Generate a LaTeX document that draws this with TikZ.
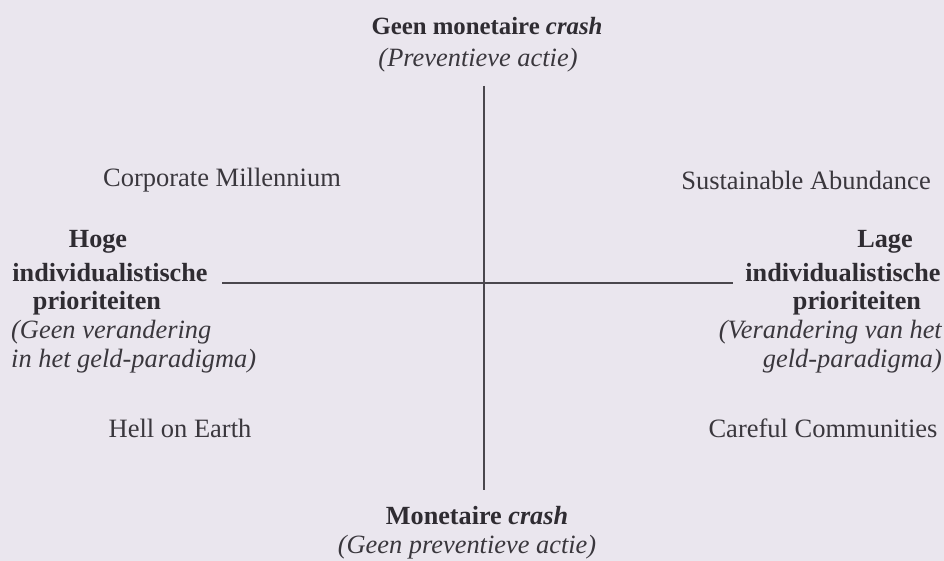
\documentclass[tikz,border=0pt]{standalone}
\usepackage{fontspec}
\setmainfont{Liberation Serif}
\definecolor{bg}{HTML}{EAE6EE}
\definecolor{ink}{HTML}{3A373D}
\definecolor{inkb}{HTML}{2F2C32}
\definecolor{linec}{HTML}{4A474D}
\begin{document}
\begin{tikzpicture}[x=1pt,y=-1pt,
  txt/.style={text=ink,font=\fontsize{26.5}{28}\selectfont,inner sep=0pt},
  bld/.style={txt,text=inkb,font=\fontsize{26.2}{28}\selectfont\bfseries},
  itl/.style={txt,font=\fontsize{26.4}{28}\selectfont\itshape},
  axis/.style={draw=linec,line width=1.6pt}]
\fill[bg] (0,0) rectangle (944,561);
\useasboundingbox (0,0) rectangle (944,561);
\node[bld,font=\fontsize{24.8}{28}\selectfont\bfseries] (top1) at (487,26) {Geen monetaire \textit{crash}};
\node[itl] (top2) at (478,60) {(Preventieve actie)};
\node[txt] (cm) at (222,180) {Corporate Millennium};
\node[txt] (sa) at (806,180) {Sustainable Abundance};
\node[bld] (l1) at (98,242) {Hoge};
\node[bld] (l2) at (110,273) {individualistische};
\node[bld] (l3) at (97,303) {prioriteiten};
\node[itl,anchor=west] (l4) at (11,332) {(Geen verandering};
\node[itl,anchor=west] (l5) at (11,361) {in het geld-paradigma)};
\node[bld] (r1) at (885,242) {Lage};
\node[bld] (r2) at (843,273) {individualistische};
\node[bld] (r3) at (857,303) {prioriteiten};
\node[itl,anchor=east] (r4) at (942,332) {(Verandering van het};
\node[itl,anchor=east] (r5) at (942,361) {geld-paradigma)};
\node[txt] (he) at (180,428) {Hell on Earth};
\node[txt] (cc) at (823,428) {Careful Communities};
\node[bld] (bot1) at (477,516) {Monetaire \textit{crash}};
\node[itl] (bot2) at (467,547) {(Geen preventieve actie)};
\coordinate (vt) at (484,86);
\coordinate (vb) at (484,490);
\coordinate (hl) at (222,283);
\coordinate (hr) at (733,283);
\draw[axis] (vt) -- (vb);
\draw[axis] (hl) -- (hr);
\end{tikzpicture}
\end{document}
